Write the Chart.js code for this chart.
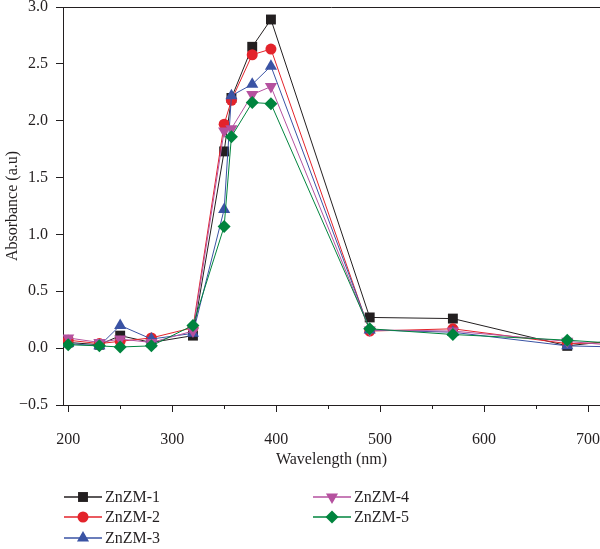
<!DOCTYPE html>
<html><head><meta charset="utf-8">
<script src="https://cdn.jsdelivr.net/npm/chart.js@4/dist/chart.umd.min.js"></script>
<style>html,body{margin:0;padding:0;background:#fff}canvas{display:block}</style>
</head><body>
<canvas id="c" width="600" height="549"></canvas>
<script>
// ---- data ----
const wavelengths = [200, 230, 250, 280, 320, 350, 357, 377, 395, 490, 570, 680, 730];
const seriesNames = ['ZnZM-1', 'ZnZM-2', 'ZnZM-3', 'ZnZM-4', 'ZnZM-5'];
const znzm1 = [0.05, 0.03, 0.11, 0.05, 0.11, 1.73, 2.20, 2.65, 2.89, 0.27, 0.26, 0.02, 0.07];
const znzm2 = [0.07, 0.04, 0.06, 0.09, 0.18, 1.97, 2.18, 2.58, 2.63, 0.15, 0.17, 0.04, 0.05];
const znzm3 = [0.04, 0.02, 0.20, 0.08, 0.13, 1.22, 2.22, 2.32, 2.48, 0.16, 0.14, 0.02, 0.01];
const znzm4 = [0.09, 0.05, 0.08, 0.05, 0.15, 1.91, 1.93, 2.23, 2.30, 0.16, 0.15, 0.06, 0.02];
const znzm5 = [0.03, 0.02, 0.01, 0.02, 0.20, 1.07, 1.86, 2.16, 2.15, 0.17, 0.12, 0.07, 0.04];
const seriesValues = [znzm1, znzm2, znzm3, znzm4, znzm5];
const xTickValues = [200, 300, 400, 500, 600, 700];
const xMinorTickValues = [250, 350, 450, 550, 650];
const yTickValues = [-0.5, 0, 0.5, 1.0, 1.5, 2.0, 2.5, 3.0];

// ---- styles ----
const colors = ['#231f20', '#e3232b', '#3a53a4', '#b5519f', '#00843e'];
const pStyles = ['rect', 'circle', 'triangle', 'triangle', 'rectRot'];
const pRadius = [7, 5.5, 7, 7, 6.5];
const pRotation = [0, 0, 0, 180, 0];
const AXIS = '#231f20';
const FONT = "'Liberation Serif', 'DejaVu Serif', serif";

Chart.defaults.font.family = FONT;
Chart.defaults.font.size = 16;
Chart.defaults.color = AXIS;

const datasets = seriesNames.map((name, i) => ({
  label: name,
  data: wavelengths.map((w, j) => ({x: w, y: seriesValues[i][j]})),
  borderColor: colors[i],
  backgroundColor: colors[i],
  borderWidth: 1,
  pointStyle: pStyles[i],
  pointRadius: pRadius[i],
  pointHoverRadius: pRadius[i],
  pointRotation: pRotation[i],
  pointBorderWidth: 0,
  tension: 0,
  order: seriesNames.length - i
}));

const framePlugin = {
  id: 'frame',
  afterDraw(chart) {
    const {ctx, chartArea: a, scales: {x}} = chart;
    ctx.save();
    ctx.strokeStyle = AXIS;
    ctx.lineWidth = 1;
    // top border
    ctx.beginPath();
    ctx.moveTo(a.left, a.top + 0.5);
    ctx.lineTo(chart.width, a.top + 0.5);
    ctx.stroke();
    // minor x ticks
    xMinorTickValues.forEach(v => {
      const px = Math.round(x.getPixelForValue(v)) + 0.5;
      ctx.beginPath();
      ctx.moveTo(px, a.bottom);
      ctx.lineTo(px, a.bottom + 4);
      ctx.stroke();
    });
    // legend
    const slots = [[64, 497], [64, 517], [64, 538], [313, 497], [313, 517]];
    chart.data.datasets.forEach((ds, i) => {
      const [lx, ly] = slots[i];
      ctx.strokeStyle = ds.borderColor;
      ctx.lineWidth = 1.5;
      ctx.beginPath();
      ctx.moveTo(lx, ly);
      ctx.lineTo(lx + 38, ly);
      ctx.stroke();
      ctx.fillStyle = ds.backgroundColor;
      Chart.helpers.drawPoint(ctx, {pointStyle: ds.pointStyle, radius: ds.pointRadius, rotation: ds.pointRotation, borderWidth: 0}, lx + 19, ly);
      ctx.fillStyle = AXIS;
      ctx.font = '16px ' + FONT;
      ctx.textAlign = 'left';
      ctx.textBaseline = 'middle';
      ctx.fillText(ds.label, lx + 41, ly + 1);
    });
    ctx.restore();
  }
};

new Chart(document.getElementById('c'), {
  type: 'line',
  data: {datasets},
  options: {
    responsive: false,
    animation: false,
    events: [],
    layout: {autoPadding: false, padding: {top: 7, right: 0, bottom: 80, left: 0}},
    plugins: {legend: {display: false}, tooltip: {enabled: false}},
    scales: {
      x: {
        type: 'linear',
        min: 195,
        max: 711.5,
        afterBuildTicks: s => { s.ticks = xTickValues.map(v => ({value: v})); },
        afterFit: s => { s.height = 64; s.paddingLeft = 0; s.paddingRight = 0; },
        ticks: {padding: 18, maxRotation: 0, autoSkip: false, color: AXIS},
        grid: {drawOnChartArea: false, drawTicks: true, tickLength: 7, color: AXIS, lineWidth: 1},
        border: {display: true, color: AXIS, width: 1},
        title: {display: true, text: 'Wavelength (nm)', color: AXIS, padding: {top: 0, bottom: 0}}
      },
      y: {
        type: 'linear',
        min: -0.5,
        max: 3.0,
        afterBuildTicks: s => { s.ticks = yTickValues.map(v => ({value: v})); },
        afterFit: s => { s.width = 63; s.paddingTop = 0; s.paddingBottom = 0; },
        ticks: {
          padding: 8, autoSkip: false, color: AXIS,
          callback: v => (v < 0 ? '\u2212' : '') + Math.abs(v).toFixed(1)
        },
        grid: {drawOnChartArea: false, drawTicks: true, tickLength: 7, color: AXIS, lineWidth: 1},
        border: {display: true, color: AXIS, width: 1},
        title: {display: true, text: 'Absorbance (a.u)', color: AXIS, padding: {top: 3, bottom: 0}}
      }
    }
  },
  plugins: [framePlugin]
});
</script>
</body></html>
